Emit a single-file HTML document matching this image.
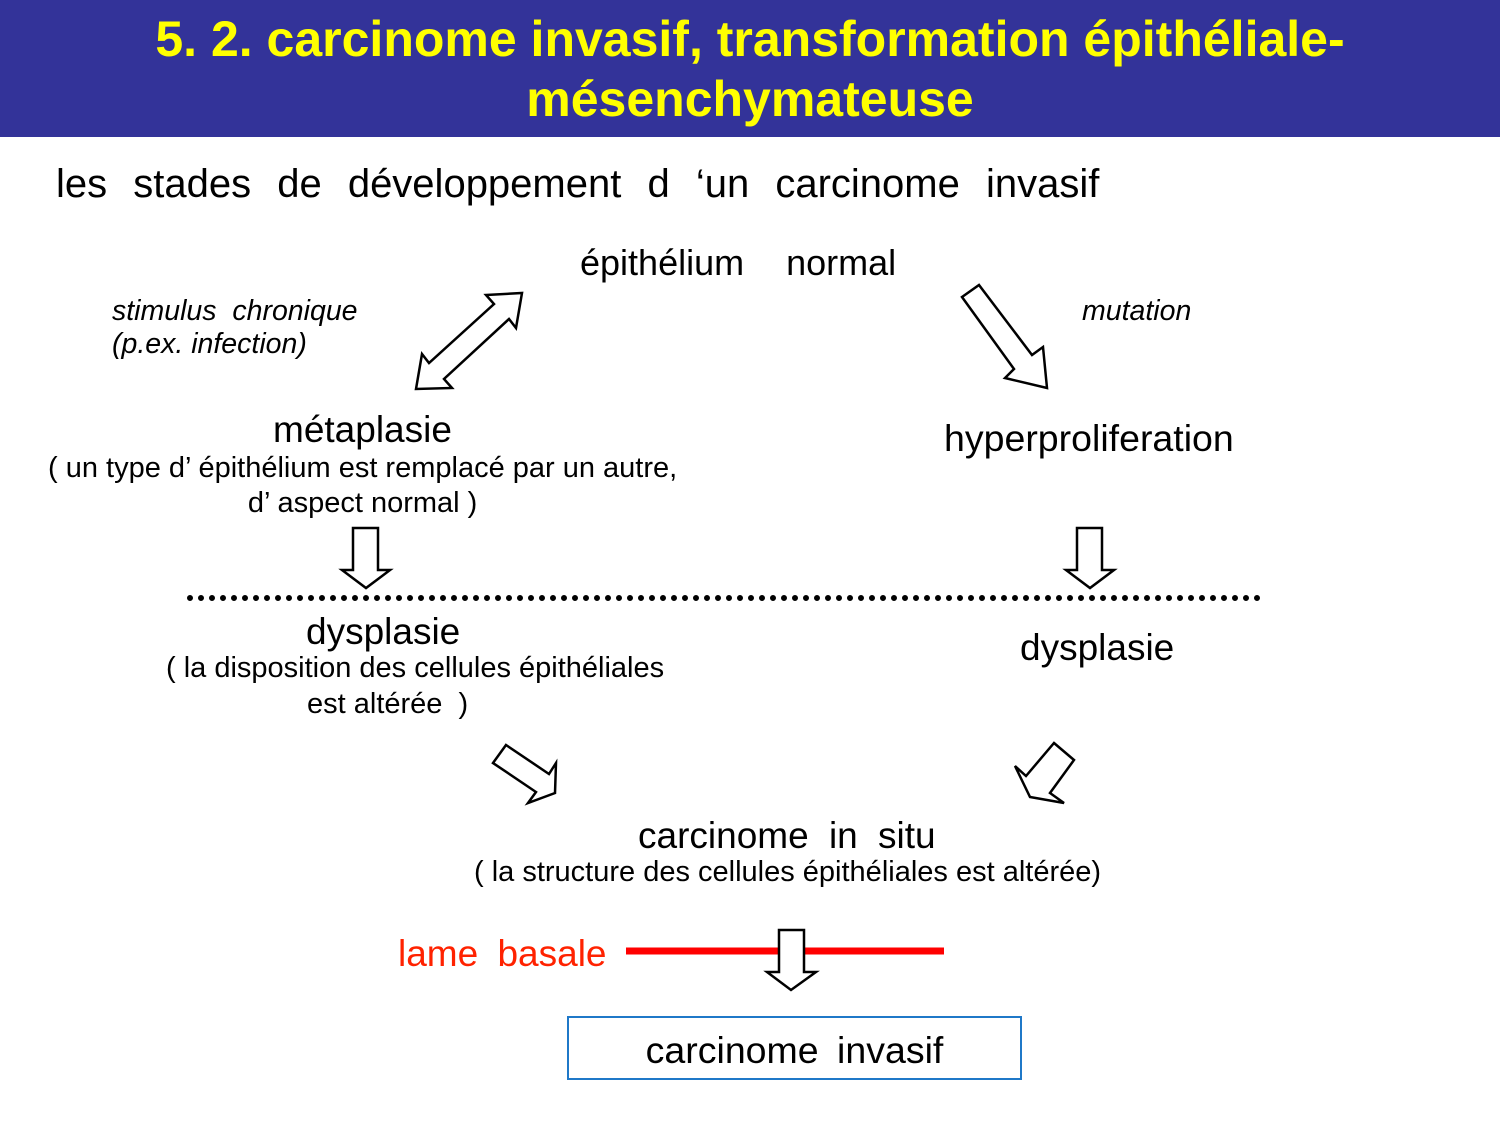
<!DOCTYPE html>
<html><head><meta charset="utf-8"><style>
body{margin:0;width:1500px;height:1125px;background:#fff;position:relative;font-family:"Liberation Sans",sans-serif;overflow:hidden}
.hdr{position:absolute;left:0;top:0;width:1500px;height:137px;background:#333399;color:#ffff00;font-weight:bold;font-size:50px;text-align:center;line-height:60px;padding-top:9px;box-sizing:border-box}
.t{position:absolute;white-space:nowrap;color:#000}
</style></head><body>
<div class="hdr">5. 2. carcinome invasif, transformation épithéliale-<br>mésenchymateuse</div>
<div class="t" style="left:56px;top:162px;font-size:40px;word-spacing:15px">les stades de développement d ‘un carcinome invasif</div>
<div class="t" style="left:580px;top:242px;font-size:36px;word-spacing:32px">épithélium normal</div>
<div class="t" style="left:112px;top:295px;font-size:28.5px;font-style:italic;line-height:33px">stimulus&nbsp; chronique<br>(p.ex. infection)</div>
<div class="t" style="left:1082px;top:295px;font-size:28.5px;font-style:italic">mutation</div>
<div class="t" style="left:273px;top:409px;font-size:37px">métaplasie</div>
<div class="t" style="left:48px;top:451px;font-size:29px;line-height:35px;text-align:center">( un type d’ épithélium est remplacé par un autre,<br>d’ aspect normal )</div>
<div class="t" style="left:944px;top:417px;font-size:37.5px">hyperproliferation</div>
<div class="t" style="left:306px;top:611px;font-size:37px">dysplasie</div>
<div class="t" style="left:166px;top:652px;font-size:29px">( la disposition des cellules épithéliales</div>
<div class="t" style="left:307px;top:688px;font-size:29px">est altérée&nbsp; )</div>
<div class="t" style="left:1020px;top:627px;font-size:37px">dysplasie</div>
<div class="t" style="left:638px;top:815px;font-size:37px;word-spacing:10px">carcinome in situ</div>
<div class="t" style="left:474px;top:856px;font-size:29px">( la structure des cellules épithéliales est altérée)</div>
<div class="t" style="left:398px;top:933px;font-size:37px;color:#ff2200;word-spacing:9px">lame basale</div>
<div style="position:absolute;left:567px;top:1016px;width:451px;height:60px;border:2px solid #1f78c8"></div>
<div class="t" style="left:567px;width:455px;text-align:center;top:1029px;font-size:37.5px;word-spacing:8px">carcinome invasif</div>
<svg width="1500" height="1125" style="position:absolute;left:0;top:0">
<line x1="626" y1="951" x2="944" y2="951" stroke="#ff0000" stroke-width="7"/>
<line x1="190" y1="598" x2="1260" y2="598" stroke="#000" stroke-width="6" stroke-linecap="round" stroke-dasharray="0 11"/>
<g fill="#fff" stroke="#000" stroke-width="2.5" stroke-linejoin="miter">
<polygon points="486,295 522,293 516,328 509,319 444,379 452,388 416,389 422,354 429,363 494,304"/>
<polygon points="962,297 979,285 1032,355 1043,347 1047,388 1005,378 1014,369"/>
<polygon points="353,528 378,528 378,570 390,570 366,588 342,570 353,570"/>
<polygon points="1077,528 1102,528 1102,570 1114,570 1090,588 1066,570 1077,570"/>
<polygon points="779,930 804,930 804,972 816,972 791,990 767,972 779,972"/>
<polygon points="506,745 549,774 556,763 555,793 528,803 536,792 493,763"/>
<polygon points="1054,743 1074,760 1050,793 1064,803 1030,797 1015,766 1026,776"/>
</g>
</svg>
</body></html>
